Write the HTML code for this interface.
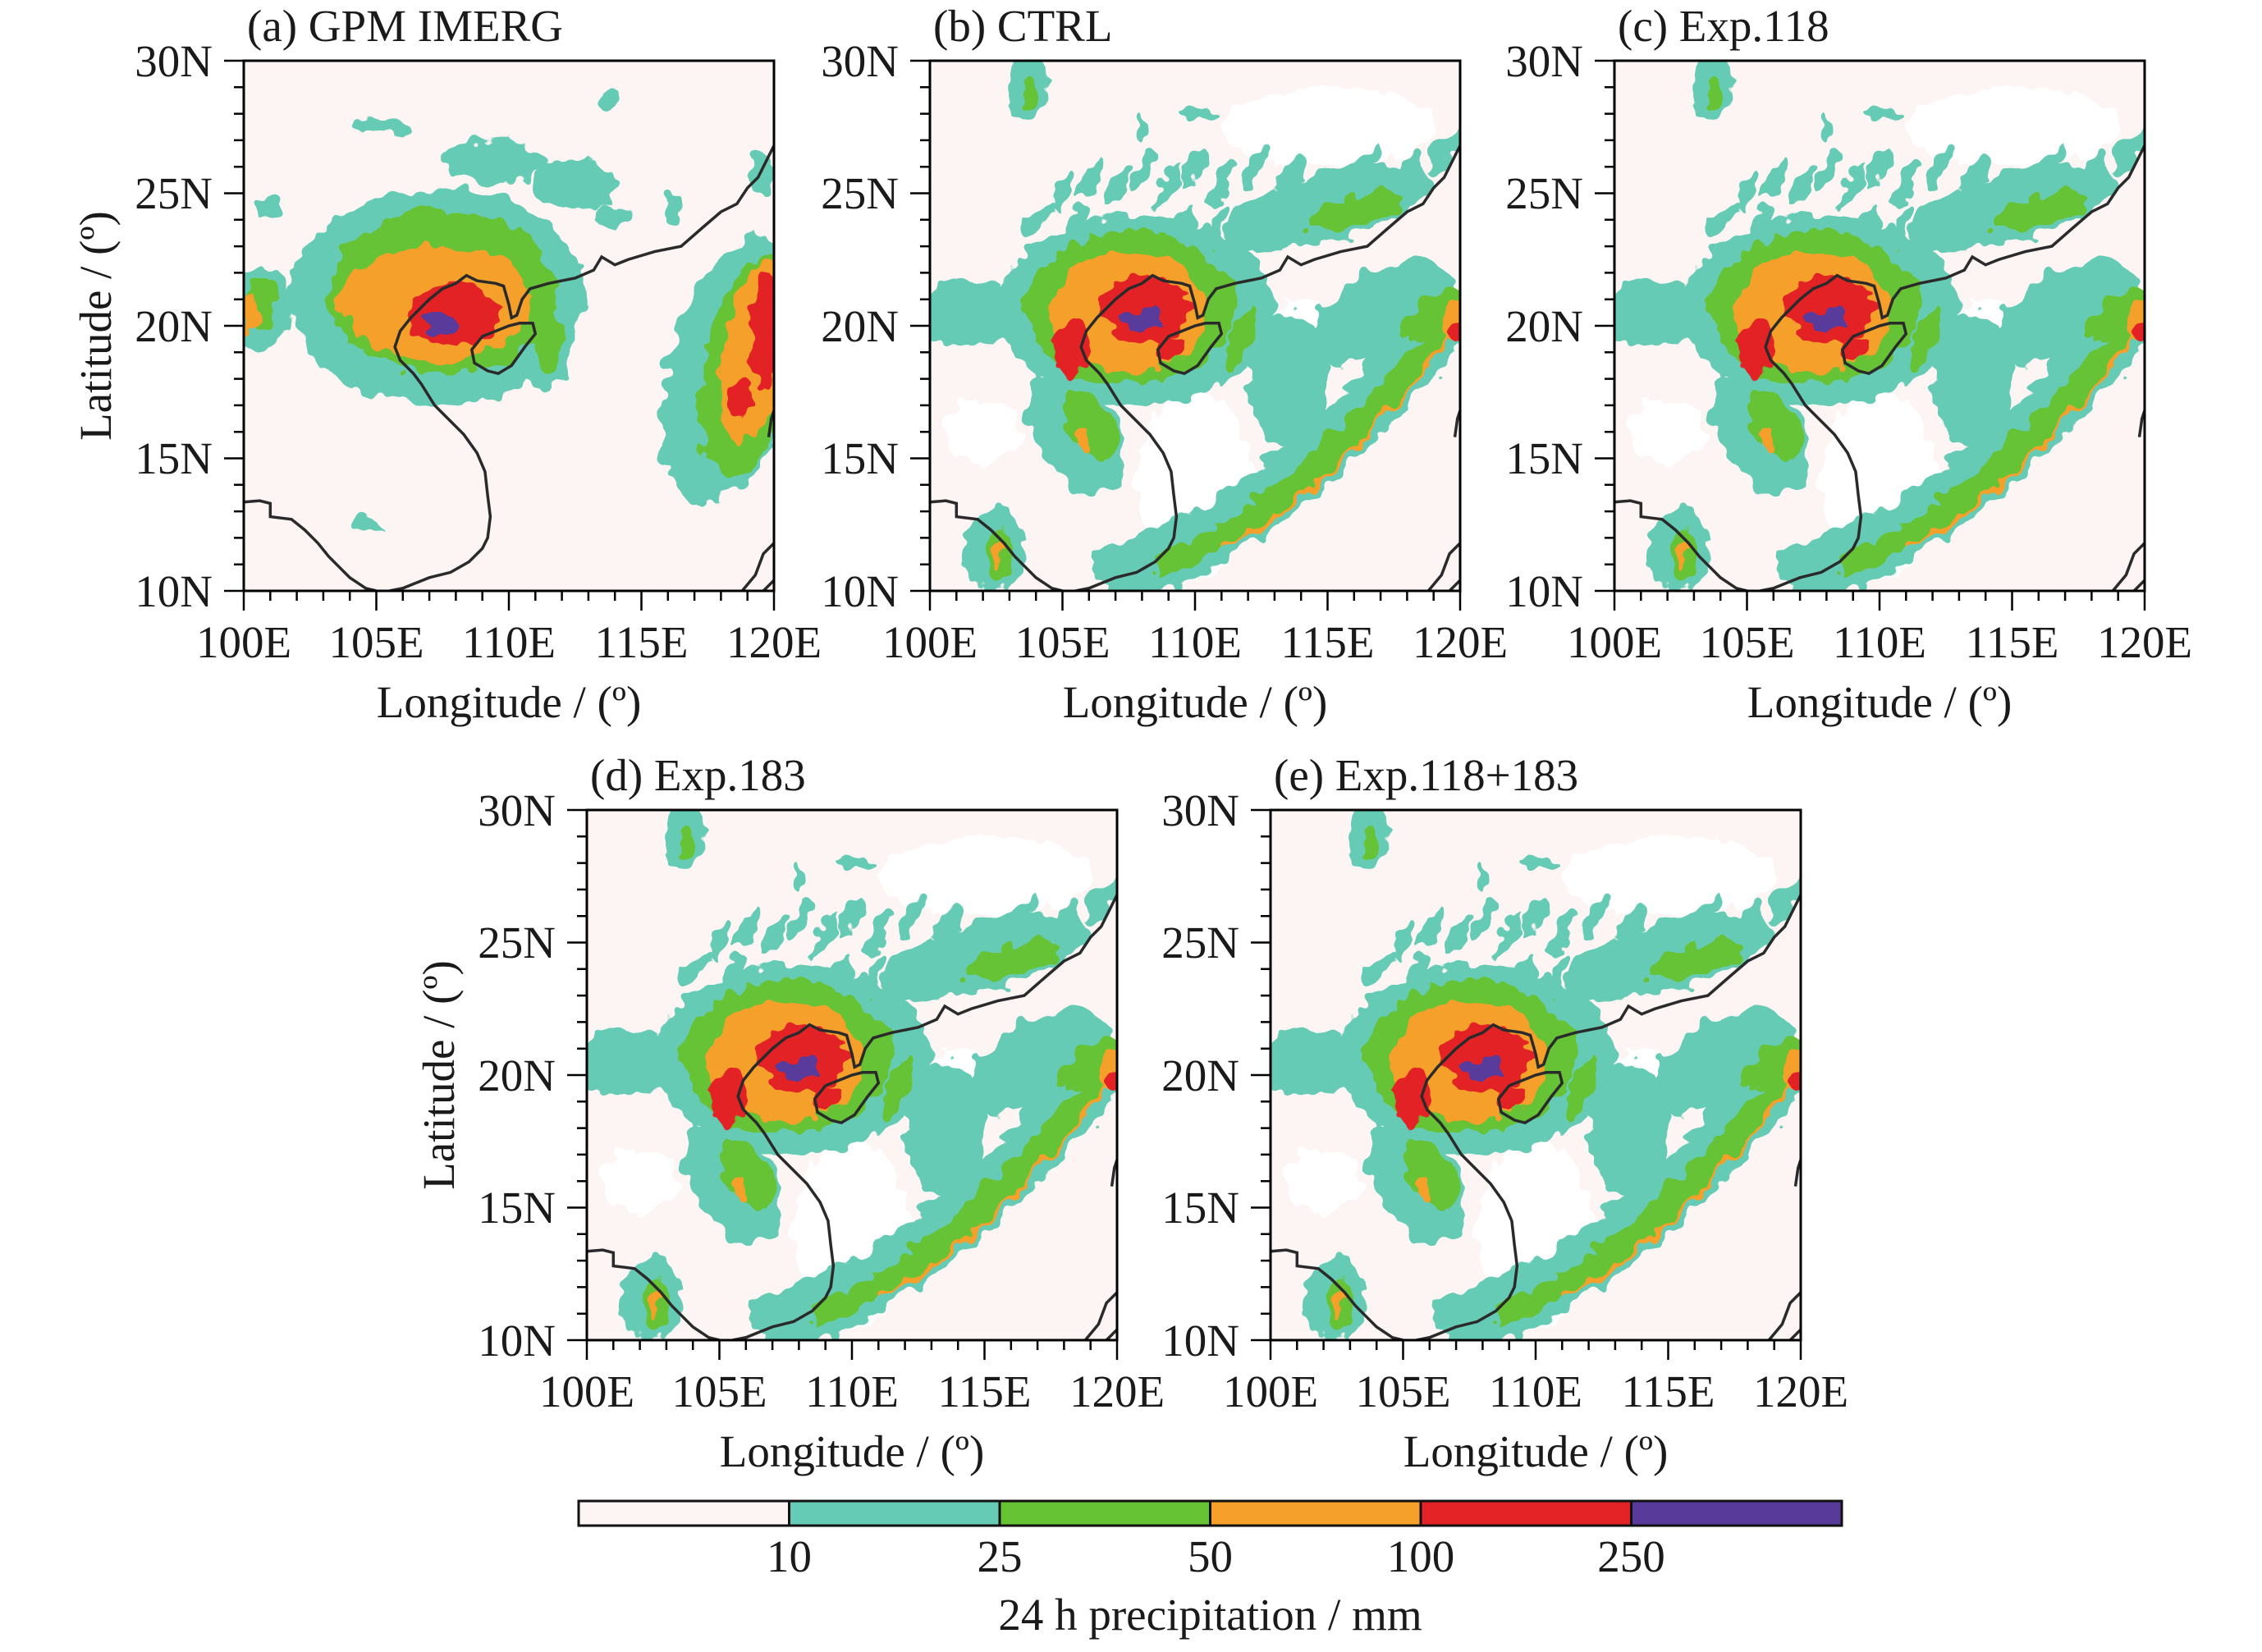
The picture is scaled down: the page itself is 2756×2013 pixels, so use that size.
<!DOCTYPE html>
<html><head><meta charset="utf-8"><style>
html,body{margin:0;padding:0;background:#fff;}
svg text{font-family:"Liberation Serif",serif;fill:#1a1a1a;}
</style></head><body>
<svg xmlns="http://www.w3.org/2000/svg" xmlns:xlink="http://www.w3.org/1999/xlink" width="2756" height="2008" viewBox="0 0 2756 2008">
<defs>
<filter id="rough" x="-20%" y="-20%" width="140%" height="140%">
  <feTurbulence type="fractalNoise" baseFrequency="1.4" numOctaves="2" seed="3" result="n"/>
  <feDisplacementMap in="SourceGraphic" in2="n" scale="0.9" xChannelSelector="R" yChannelSelector="G"/>
</filter>
<g id="coast" fill="none" stroke="#2a2a2a" stroke-width="3.5">
  <path vector-effect="non-scaling-stroke" d="M120,-26.8 L119.7,-26.2 119.4,-25.6 119,-25.2 118.6,-24.6 118,-24.3 117.3,-23.7 116.5,-23 115.5,-22.8 114.5,-22.5 114,-22.3 113.5,-22.6 113.2,-22.1 112.5,-21.8 111.5,-21.6 110.8,-21.4 110.5,-21 110.3,-20.4 110.1,-20.3 110,-20.8 109.8,-21.5 109.5,-21.6 108.8,-21.7 108.4,-21.9 108,-21.6 107.5,-21.4 107,-21 106.7,-20.7 106.3,-20.3 105.9,-19.8 105.7,-19.2 105.9,-18.7 106.4,-18.2 106.7,-17.8 107.2,-17 107.8,-16.4 108.3,-15.9 108.8,-15.2 109.1,-14.5 109.2,-13.6 109.3,-12.8 109.2,-12 109,-11.6 108.5,-11.1 107.8,-10.7 107,-10.5 106.5,-10.3 106,-10.1 105.5,-10"/>
  <path vector-effect="non-scaling-stroke" d="M108.6,-19.1 L108.7,-18.6 109.2,-18.3 109.6,-18.2 110.1,-18.5 110.6,-19.2 111,-19.7 110.9,-20.1 110.4,-20.1 110,-20 109.5,-19.8 109,-19.6 108.6,-19.1Z"/>
  <path vector-effect="non-scaling-stroke" d="M100,-13.35 L100.6,-13.4 101,-13.3 101,-12.8 101.8,-12.7 102.3,-12.3 102.8,-11.8 103.2,-11.3 103.6,-10.9 104,-10.5 104.6,-10.1 105,-10"/>
  <path vector-effect="non-scaling-stroke" d="M118.8,-10 L119.3,-10.6 119.6,-11.4 120,-11.8 M119.8,-15.8 L119.9,-16.5 120,-16.8 M119.6,-10 L120,-10.4"/>
</g>
<g id="gpm">
  <rect x="100" y="-30" width="20" height="20" fill="#fdf4f4"/>
  <g filter="url(#rough)">
    <g fill="#66cbb4">
      <ellipse cx="107.3" cy="-21.1" rx="5.6" ry="4.1"/>
      <ellipse cx="100.6" cy="-20.7" rx="1.2" ry="1.6"/>
      <ellipse cx="118.4" cy="-18.3" rx="2.4" ry="5.2" transform="rotate(15 118.4 -18.3)"/>
      <ellipse cx="109.5" cy="-26.2" rx="2" ry="0.8"/>
      <ellipse cx="112.5" cy="-25.3" rx="1.6" ry="1"/>
      <ellipse cx="105.3" cy="-27.5" rx="1.1" ry="0.3"/>
      <ellipse cx="113.8" cy="-28.6" rx="0.5" ry="0.4"/>
      <ellipse cx="114" cy="-24.2" rx="0.8" ry="0.4"/>
      <ellipse cx="116.2" cy="-24.4" rx="0.3" ry="0.7"/>
      <ellipse cx="119.5" cy="-25.7" rx="0.5" ry="0.7"/>
      <ellipse cx="101" cy="-24.5" rx="0.4" ry="0.4"/>
      <ellipse cx="104.5" cy="-12.5" rx="0.6" ry="0.25"/>
      <ellipse cx="111.3" cy="-19.4" rx="1" ry="1.8"/>
    </g>
    <g fill="#66c334">
      <ellipse cx="107.5" cy="-21.3" rx="4.3" ry="3.1"/>
      <ellipse cx="100.6" cy="-20.7" rx="0.6" ry="1"/>
      <ellipse cx="119.1" cy="-18.5" rx="1.7" ry="4.2" transform="rotate(12 119.1 -18.5)"/>
      <ellipse cx="111.5" cy="-19.4" rx="0.5" ry="1.2"/>
    </g>
    <g fill="#f4a02a">
      <ellipse cx="107.3" cy="-20.9" rx="3.6" ry="2.2"/>
      <ellipse cx="100.2" cy="-20.5" rx="0.4" ry="0.7"/>
      <ellipse cx="119.3" cy="-19" rx="1.2" ry="3.5" transform="rotate(10 119.3 -19)"/>
    </g>
    <g fill="#e32326">
      <ellipse cx="108" cy="-20.4" rx="1.7" ry="1.2"/>
      <ellipse cx="119.7" cy="-19.8" rx="0.6" ry="2.4"/>
      <ellipse cx="118.8" cy="-17.3" rx="0.4" ry="0.6"/>
    </g>
    <ellipse cx="107.4" cy="-20.1" rx="0.8" ry="0.45" fill="#583a9b"/>
  </g>
  <use xlink:href="#coast"/>
</g>
<g id="sim">
  <rect x="100" y="-30" width="20" height="20" fill="#fdf4f4"/>
  <g filter="url(#rough)">
    <g fill="#ffffff">
      <ellipse cx="110" cy="-14" rx="2.2" ry="3.5"/>
      <ellipse cx="115" cy="-27.5" rx="4" ry="1.5"/>
      <ellipse cx="102" cy="-16" rx="1.5" ry="1.2"/>
      <ellipse cx="114" cy="-19.5" rx="1.5" ry="1.4"/>
    </g>
    <g fill="#66cbb4">
      <ellipse cx="107.8" cy="-20.6" rx="5.2" ry="3.6"/>
      <ellipse cx="101.5" cy="-20.5" rx="2" ry="1.2"/>
      <ellipse cx="103.7" cy="-29" rx="0.8" ry="1.2"/>
      <ellipse cx="105.5" cy="-16" rx="1.5" ry="2.5" transform="rotate(-30 105.5 -16)"/>
      <ellipse cx="102.5" cy="-11.5" rx="1.2" ry="1.6"/>
      <ellipse cx="107.5" cy="-10.8" rx="1.3" ry="0.8"/>
      <ellipse cx="113.5" cy="-18" rx="1.5" ry="2.5"/>
      <ellipse cx="117" cy="-20.5" rx="3" ry="1.5" transform="rotate(-30 117 -20.5)"/>
      <ellipse cx="115" cy="-24.5" rx="4" ry="1.3" transform="rotate(-15 115 -24.5)"/>
    </g>
    <path d="M106.5,-10.4 Q113,-12 120,-21" fill="none" stroke="#66cbb4" stroke-width="2.2"/>
    <g fill="#66cbb4">
      <ellipse cx="105" cy="-25" rx="0.25" ry="0.8" transform="rotate(30 105 -25)"/>
      <ellipse cx="106" cy="-25.5" rx="0.25" ry="0.9" transform="rotate(30 106 -25.5)"/>
      <ellipse cx="107" cy="-25.2" rx="0.3" ry="0.9" transform="rotate(30 107 -25.2)"/>
      <ellipse cx="108" cy="-25.8" rx="0.3" ry="0.9" transform="rotate(30 108 -25.8)"/>
      <ellipse cx="109" cy="-25.3" rx="0.3" ry="1" transform="rotate(30 109 -25.3)"/>
      <ellipse cx="110" cy="-25.9" rx="0.3" ry="0.9" transform="rotate(30 110 -25.9)"/>
      <ellipse cx="111" cy="-25.4" rx="0.35" ry="1" transform="rotate(30 111 -25.4)"/>
      <ellipse cx="112.2" cy="-26" rx="0.3" ry="0.9" transform="rotate(30 112.2 -26)"/>
      <ellipse cx="113.5" cy="-25.5" rx="0.4" ry="1" transform="rotate(30 113.5 -25.5)"/>
      <ellipse cx="104" cy="-24" rx="0.3" ry="0.8" transform="rotate(40 104 -24)"/>
      <ellipse cx="105.5" cy="-23.8" rx="0.3" ry="0.8" transform="rotate(30 105.5 -23.8)"/>
      <ellipse cx="109.5" cy="-23.6" rx="0.35" ry="0.9" transform="rotate(20 109.5 -23.6)"/>
      <ellipse cx="110.8" cy="-23.8" rx="0.3" ry="0.8" transform="rotate(20 110.8 -23.8)"/>
      <ellipse cx="112" cy="-23.5" rx="0.4" ry="0.8" transform="rotate(20 112 -23.5)"/>
      <ellipse cx="116.5" cy="-26.2" rx="0.3" ry="0.8" transform="rotate(30 116.5 -26.2)"/>
      <ellipse cx="118" cy="-25.8" rx="0.4" ry="0.9" transform="rotate(30 118 -25.8)"/>
      <ellipse cx="119.4" cy="-26.5" rx="0.4" ry="1" transform="rotate(30 119.4 -26.5)"/>
      <ellipse cx="110" cy="-28" rx="0.8" ry="0.2"/>
      <ellipse cx="108" cy="-27.5" rx="0.2" ry="0.5"/>
    </g>
    <g fill="#66c334">
      <ellipse cx="107.6" cy="-20.7" rx="3.9" ry="2.9"/>
      <ellipse cx="106" cy="-16.2" rx="0.8" ry="1.5" transform="rotate(-30 106 -16.2)"/>
      <ellipse cx="102.6" cy="-11.3" rx="0.5" ry="1.1"/>
      <ellipse cx="103.8" cy="-28.8" rx="0.3" ry="0.8"/>
      <ellipse cx="116" cy="-24.3" rx="1.8" ry="0.6" transform="rotate(-15 116 -24.3)"/>
      <ellipse cx="119" cy="-20.5" rx="1.3" ry="0.6" transform="rotate(-40 119 -20.5)"/>
      <ellipse cx="111.7" cy="-19.5" rx="0.4" ry="1.3" transform="rotate(20 111.7 -19.5)"/>
    </g>
    <path d="M108.5,-10.9 Q114,-12.8 120,-20.8" fill="none" stroke="#66c334" stroke-width="0.9"/>
    <path d="M111,-11.6 Q115,-13.5 119.6,-19.6" fill="none" stroke="#f4a02a" stroke-width="0.15"/>
    <g fill="#f4a02a">
      <ellipse cx="107.5" cy="-20.5" rx="3" ry="2.3"/>
      <ellipse cx="105.8" cy="-15.6" rx="0.25" ry="0.5"/>
      <ellipse cx="102.6" cy="-11.4" rx="0.2" ry="0.5"/>
      <ellipse cx="119.7" cy="-20" rx="0.35" ry="0.8"/>
    </g>
    <g fill="#e32326">
      <ellipse cx="108.1" cy="-20.6" rx="1.7" ry="1.3"/>
      <ellipse cx="105.4" cy="-19.1" rx="0.7" ry="1"/>
      <ellipse cx="109" cy="-19.1" rx="0.6" ry="0.5"/>
      <ellipse cx="119.8" cy="-19.7" rx="0.3" ry="0.5"/>
    </g>
    <ellipse cx="107.9" cy="-20.2" rx="0.9" ry="0.4" fill="#583a9b"/>
  </g>
  <use xlink:href="#coast"/>
</g>
<g id="axes" fill="none" stroke="#000">
  <rect x="0" y="0" width="646" height="646" stroke-width="3"/>
  <path stroke-width="2.5" d="M0,646v24M161.5,646v24M323,646v24M484.5,646v24M646,646v24
  M32.3,646v12M64.6,646v12M96.9,646v12M129.2,646v12M193.8,646v12M226.1,646v12M258.4,646v12M290.7,646v12M355.3,646v12M387.6,646v12M419.9,646v12M452.2,646v12M516.8,646v12M549.1,646v12M581.4,646v12M613.7,646v12
  M0,0h-24M0,161.5h-24M0,323h-24M0,484.5h-24M0,646h-24
  M0,32.3h-12M0,64.6h-12M0,96.9h-12M0,129.2h-12M0,193.8h-12M0,226.1h-12M0,258.4h-12M0,290.7h-12M0,355.3h-12M0,387.6h-12M0,419.9h-12M0,452.2h-12M0,516.8h-12M0,549.1h-12M0,581.4h-12M0,613.7h-12"/>
</g>
<g id="labs" font-size="55">
  <g text-anchor="end">
    <text x="-38" y="19">30N</text><text x="-38" y="180">25N</text><text x="-38" y="342">20N</text><text x="-38" y="503">15N</text><text x="-38" y="665">10N</text>
  </g>
  <g text-anchor="middle">
    <text x="0" y="727">100E</text><text x="161.5" y="727">105E</text><text x="323" y="727">110E</text><text x="484.5" y="727">115E</text><text x="646" y="727">120E</text>
    <text x="323" y="800">Longitude / (º)</text>
  </g>
</g>
</defs>

<!-- panel a -->
<svg x="297" y="74" width="646" height="646" viewBox="100 -30 20 20" preserveAspectRatio="none"><use xlink:href="#gpm"/></svg>
<g transform="translate(297,74)"><use xlink:href="#axes"/><use xlink:href="#labs"/>
<text x="4" y="-24" font-size="55">(a) GPM IMERG</text>
<text transform="translate(-162,323) rotate(-90)" text-anchor="middle" font-size="55">Latitude / (º)</text></g>

<!-- panel b -->
<svg x="1133" y="74" width="646" height="646" viewBox="100 -30 20 20" preserveAspectRatio="none"><use xlink:href="#sim"/></svg>
<g transform="translate(1133,74)"><use xlink:href="#axes"/><use xlink:href="#labs"/>
<text x="4" y="-24" font-size="55">(b) CTRL</text></g>

<!-- panel c -->
<svg x="1967" y="74" width="646" height="646" viewBox="100 -30 20 20" preserveAspectRatio="none"><use xlink:href="#sim"/></svg>
<g transform="translate(1967,74)"><use xlink:href="#axes"/><use xlink:href="#labs"/>
<text x="4" y="-24" font-size="55">(c) Exp.118</text></g>

<!-- panel d -->
<svg x="715" y="987" width="646" height="646" viewBox="100 -30 20 20" preserveAspectRatio="none"><use xlink:href="#sim"/></svg>
<g transform="translate(715,987)"><use xlink:href="#axes"/><use xlink:href="#labs"/>
<text x="4" y="-24" font-size="55">(d) Exp.183</text>
<text transform="translate(-162,323) rotate(-90)" text-anchor="middle" font-size="55">Latitude / (º)</text></g>

<!-- panel e -->
<svg x="1548" y="987" width="646" height="646" viewBox="100 -30 20 20" preserveAspectRatio="none"><use xlink:href="#sim"/></svg>
<g transform="translate(1548,987)"><use xlink:href="#axes"/><use xlink:href="#labs"/>
<text x="4" y="-24" font-size="55">(e) Exp.118+183</text></g>

<!-- colorbar -->
<g stroke="#111" stroke-width="3">
  <rect x="705" y="1829" width="256.5" height="30" fill="#fdf4f4"/>
  <rect x="961.5" y="1829" width="256.5" height="30" fill="#66cbb4"/>
  <rect x="1218" y="1829" width="256.5" height="30" fill="#66c334"/>
  <rect x="1474.5" y="1829" width="256.5" height="30" fill="#f4a02a"/>
  <rect x="1731" y="1829" width="256.5" height="30" fill="#e32326"/>
  <rect x="1987.5" y="1829" width="256.5" height="30" fill="#583a9b"/>
</g>
<g font-size="55" text-anchor="middle">
  <text x="961.5" y="1915">10</text><text x="1218" y="1915">25</text><text x="1474.5" y="1915">50</text><text x="1731" y="1915">100</text><text x="1987.5" y="1915">250</text>
  <text x="1474.5" y="1986">24 h precipitation / mm</text>
</g>
</svg>
</body></html>
